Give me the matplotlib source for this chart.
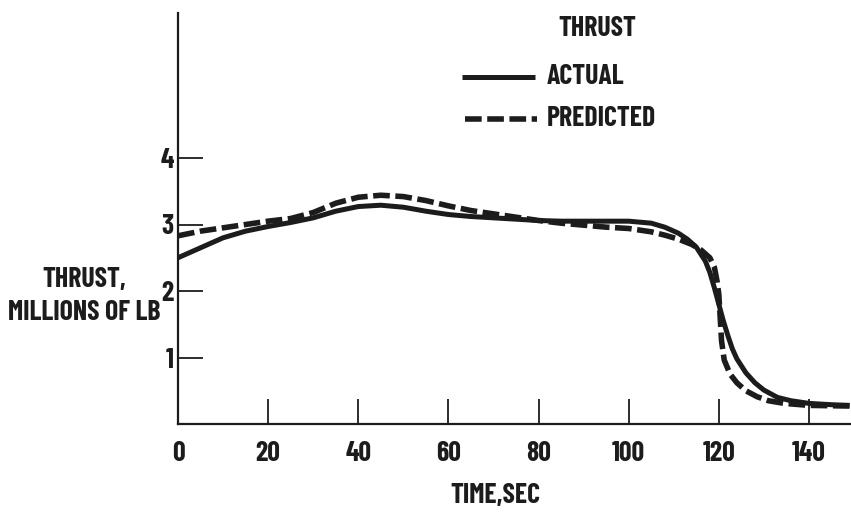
import matplotlib
matplotlib.use("Agg")
import matplotlib.pyplot as plt
from matplotlib.lines import Line2D

# ---- data ----
actual_t = [0, 5, 10, 15, 20, 25, 30, 35, 40, 45, 50, 55, 60, 65, 70, 75, 80,
            85, 90, 95, 100, 105, 108, 111, 113, 115, 117, 118, 119, 120, 121,
            122, 123, 124, 126, 128, 130, 133, 136, 140, 145, 149]
actual_y = [2.50, 2.65, 2.80, 2.90, 2.97, 3.03, 3.10, 3.20, 3.27, 3.29, 3.26,
            3.20, 3.15, 3.12, 3.10, 3.08, 3.06, 3.05, 3.05, 3.05, 3.05, 3.02,
            2.96, 2.87, 2.78, 2.66, 2.45, 2.28, 2.05, 1.80, 1.55, 1.33, 1.13,
            0.98, 0.77, 0.62, 0.51, 0.40, 0.35, 0.31, 0.29, 0.28]

pred_t = [0, 5, 10, 15, 20, 25, 30, 35, 40, 45, 50, 55, 60, 65, 70, 75, 80,
          85, 90, 95, 100, 105, 108, 111, 114, 116, 118, 119, 119.6, 120.0,
          120.3, 120.6, 121.2, 122.5, 124, 126, 128.5, 131, 134.5, 140, 149]
pred_y = [2.83, 2.90, 2.95, 3.00, 3.05, 3.09, 3.18, 3.32, 3.41, 3.44, 3.42,
          3.36, 3.28, 3.21, 3.16, 3.11, 3.06, 3.02, 2.99, 2.96, 2.94, 2.89,
          2.84, 2.78, 2.70, 2.62, 2.50, 2.36, 2.15, 1.95, 1.60, 1.25, 0.96,
          0.75, 0.62, 0.50, 0.41, 0.35, 0.31, 0.28, 0.27]

x_ticks = [0, 20, 40, 60, 80, 100, 120, 140]
y_ticks = [1, 2, 3, 4]
x_label = "TIME,SEC"
y_label = "THRUST,\nMILLIONS OF LB"
legend_title = "THRUST"
series_names = ["ACTUAL", "PREDICTED"]

# ---- style ----
INK = "#1c1c1c"
FONT = ["Barlow Condensed", "Saira Extra Condensed", "Fjalla One", "Oswald",
        "DejaVu Sans"]
plt.rcParams["font.family"] = FONT
plt.rcParams["font.weight"] = "bold"
FS = 20

W, H = 851, 512
fig = plt.figure(figsize=(W / 100, H / 100), dpi=100)
fig.patch.set_facecolor("white")

def px(x, y):
    return (x / W, 1 - y / H)

left, right, top, bottom = 178, 851, 13, 424
ax = fig.add_axes([left / W, 1 - bottom / H, (right - left) / W, (bottom - top) / H])
ax.set_facecolor("none")

ax.plot(actual_t, actual_y, color=INK, lw=3.6, solid_capstyle="butt",
        solid_joinstyle="round")
ax.plot(pred_t, pred_y, color=INK, lw=4.0, dashes=(3.0, 1.0),
        dash_capstyle="butt")

ax.set_xlim(0, (right - left) / 4.507)
ax.set_ylim(0, (bottom - top) / 66.5)

for s in ["top", "right"]:
    ax.spines[s].set_visible(False)
for s in ["left", "bottom"]:
    ax.spines[s].set_linewidth(1.6)
    ax.spines[s].set_color(INK)

ax.set_xticks(x_ticks)
ax.set_yticks(y_ticks)
ax.set_xticklabels([str(v) for v in x_ticks])
ax.set_yticklabels([str(v) for v in y_ticks])
ax.tick_params(axis="x", direction="in", length=18, width=1.3, color=INK,
               labelsize=FS, labelcolor=INK, pad=12)
ax.tick_params(axis="y", direction="in", length=18, width=1.3, color=INK,
               labelsize=FS, labelcolor=INK, pad=3)
for lab in ax.get_xticklabels() + ax.get_yticklabels():
    lab.set_fontweight("bold")

# axis titles
fig.text(*px(495, 496), x_label, ha="center", va="center", fontsize=FS,
         fontweight="bold", color=INK)
fig.text(*px(84, 296), y_label, ha="center", va="center", fontsize=FS,
         fontweight="bold", color=INK, linespacing=1.45)

# legend
fig.text(*px(597, 29), legend_title, ha="center", va="center", fontsize=FS,
         fontweight="bold", color=INK)
x0, y0 = px(462, 77)
x1, _ = px(535, 77)
fig.add_artist(Line2D([x0, x1], [y0, y0], color=INK, lw=3.6,
                      solid_capstyle="butt", transform=fig.transFigure))
x0, y1 = px(465, 119)
x1, _ = px(537, 119)
fig.add_artist(Line2D([x0, x1], [y1, y1], color=INK, lw=4.0, dashes=(3.0, 1.0),
                      dash_capstyle="butt", transform=fig.transFigure))
fig.text(*px(547, 77), series_names[0], ha="left", va="center", fontsize=FS,
         fontweight="bold", color=INK)
fig.text(*px(547, 119), series_names[1], ha="left", va="center", fontsize=FS,
         fontweight="bold", color=INK)

fig.savefig("out.png", dpi=100, facecolor="white")
